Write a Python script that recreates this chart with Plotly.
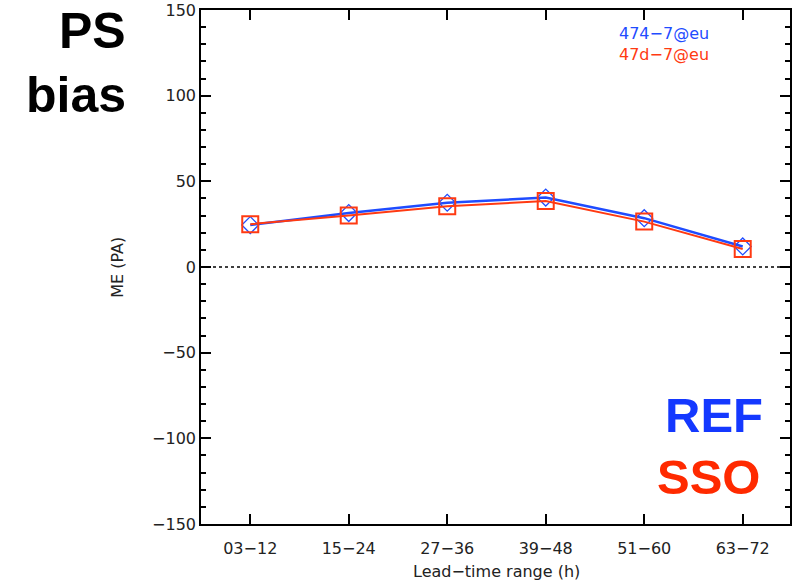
import plotly.graph_objects as go

# Lead-time ranges (hours) and mean error of surface pressure for two runs
lead_times = ["03\u221212", "15\u221224", "27\u221236", "39\u221248", "51\u221260", "63\u221272"]
ref_me = [24.5, 31.5, 37.5, 40.5, 28.5, 12.0]
sso_me = [25.0, 30.0, 35.5, 38.5, 26.5, 10.5]
ref_name = "474\u22127@eu"
sso_name = "47d\u22127@eu"

x_pos = list(range(1, len(lead_times) + 1))

BLUE = "#1f4cff"
RED = "#ff3a12"
TICK_FONT = dict(family="DejaVu Sans", size=16, color="#222")

fig = go.Figure()
fig.add_trace(go.Scatter(
    x=x_pos, y=ref_me, mode="lines+markers", name=ref_name,
    line=dict(color=BLUE, width=2.5),
    marker=dict(symbol="diamond-open", size=13, color=BLUE, line=dict(width=1.3, color=BLUE)),
))
fig.add_trace(go.Scatter(
    x=x_pos, y=sso_me, mode="lines+markers", name=sso_name,
    line=dict(color=RED, width=2),
    marker=dict(symbol="square-open", size=16, color=RED, line=dict(width=2, color=RED)),
))

# dotted zero reference line
fig.add_shape(type="line", xref="paper", x0=0, x1=1, yref="y", y0=0, y1=0,
              line=dict(color="black", width=1.5, dash="dot"))

annotations = [
    dict(text=ref_name, x=0.706, y=0.955, xanchor="left", yanchor="middle",
         font=dict(family="DejaVu Sans", size=16, color=BLUE)),
    dict(text=sso_name, x=0.706, y=0.913, xanchor="left", yanchor="middle",
         font=dict(family="DejaVu Sans", size=16, color=RED)),
    dict(text="<b>PS</b>", x=-0.1246, y=0.959, xanchor="right", yanchor="middle",
         font=dict(family="Liberation Sans", size=50, color="black")),
    dict(text="<b>bias</b>", x=-0.1246, y=0.835, xanchor="right", yanchor="middle",
         font=dict(family="Liberation Sans", size=50, color="black")),
    dict(text="<b>REF</b>", x=0.957, y=0.212, xanchor="right", yanchor="middle",
         font=dict(family="Liberation Sans", size=49, color="#1438ff")),
    dict(text="<b>SSO</b>", x=0.952, y=0.091, xanchor="right", yanchor="middle",
         font=dict(family="Liberation Sans", size=49, color="#ff2a00")),
    dict(text="Lead\u2212time range (h)", x=0.502, y=-0.093, xanchor="center", yanchor="middle",
         font=dict(family="DejaVu Sans", size=16, color="#222")),
    dict(text="ME (PA)", x=-0.143, y=0.5, xanchor="center", yanchor="middle", textangle=-90,
         font=dict(family="DejaVu Sans", size=16, color="#222")),
]
for a in annotations:
    a.update(xref="paper", yref="paper", showarrow=False)

fig.update_layout(
    width=792, height=582,
    margin=dict(l=201, r=0, t=10, b=58),
    paper_bgcolor="white", plot_bgcolor="white",
    showlegend=False,
    annotations=annotations,
)
fig.update_xaxes(
    range=[0.5, 6.48], tickvals=x_pos, ticktext=lead_times,
    showgrid=False, zeroline=False,
    showline=True, linecolor="black", linewidth=1.5, mirror="ticks",
    ticks="inside", ticklen=10, tickwidth=1.5, tickcolor="black",
    ticklabelstandoff=9,
    tickfont=TICK_FONT,
)
fig.update_yaxes(
    range=[-150, 150], tickvals=[-150, -100, -50, 0, 50, 100, 150],
    showgrid=False, zeroline=False,
    showline=True, linecolor="black", linewidth=1.5, mirror="ticks",
    ticks="inside", ticklen=10, tickwidth=1.5, tickcolor="black",
    minor=dict(dtick=10, ticks="inside", ticklen=5, tickwidth=1.5, tickcolor="black", showgrid=False),
    tickfont=TICK_FONT,
)

fig.write_html("out.html")
